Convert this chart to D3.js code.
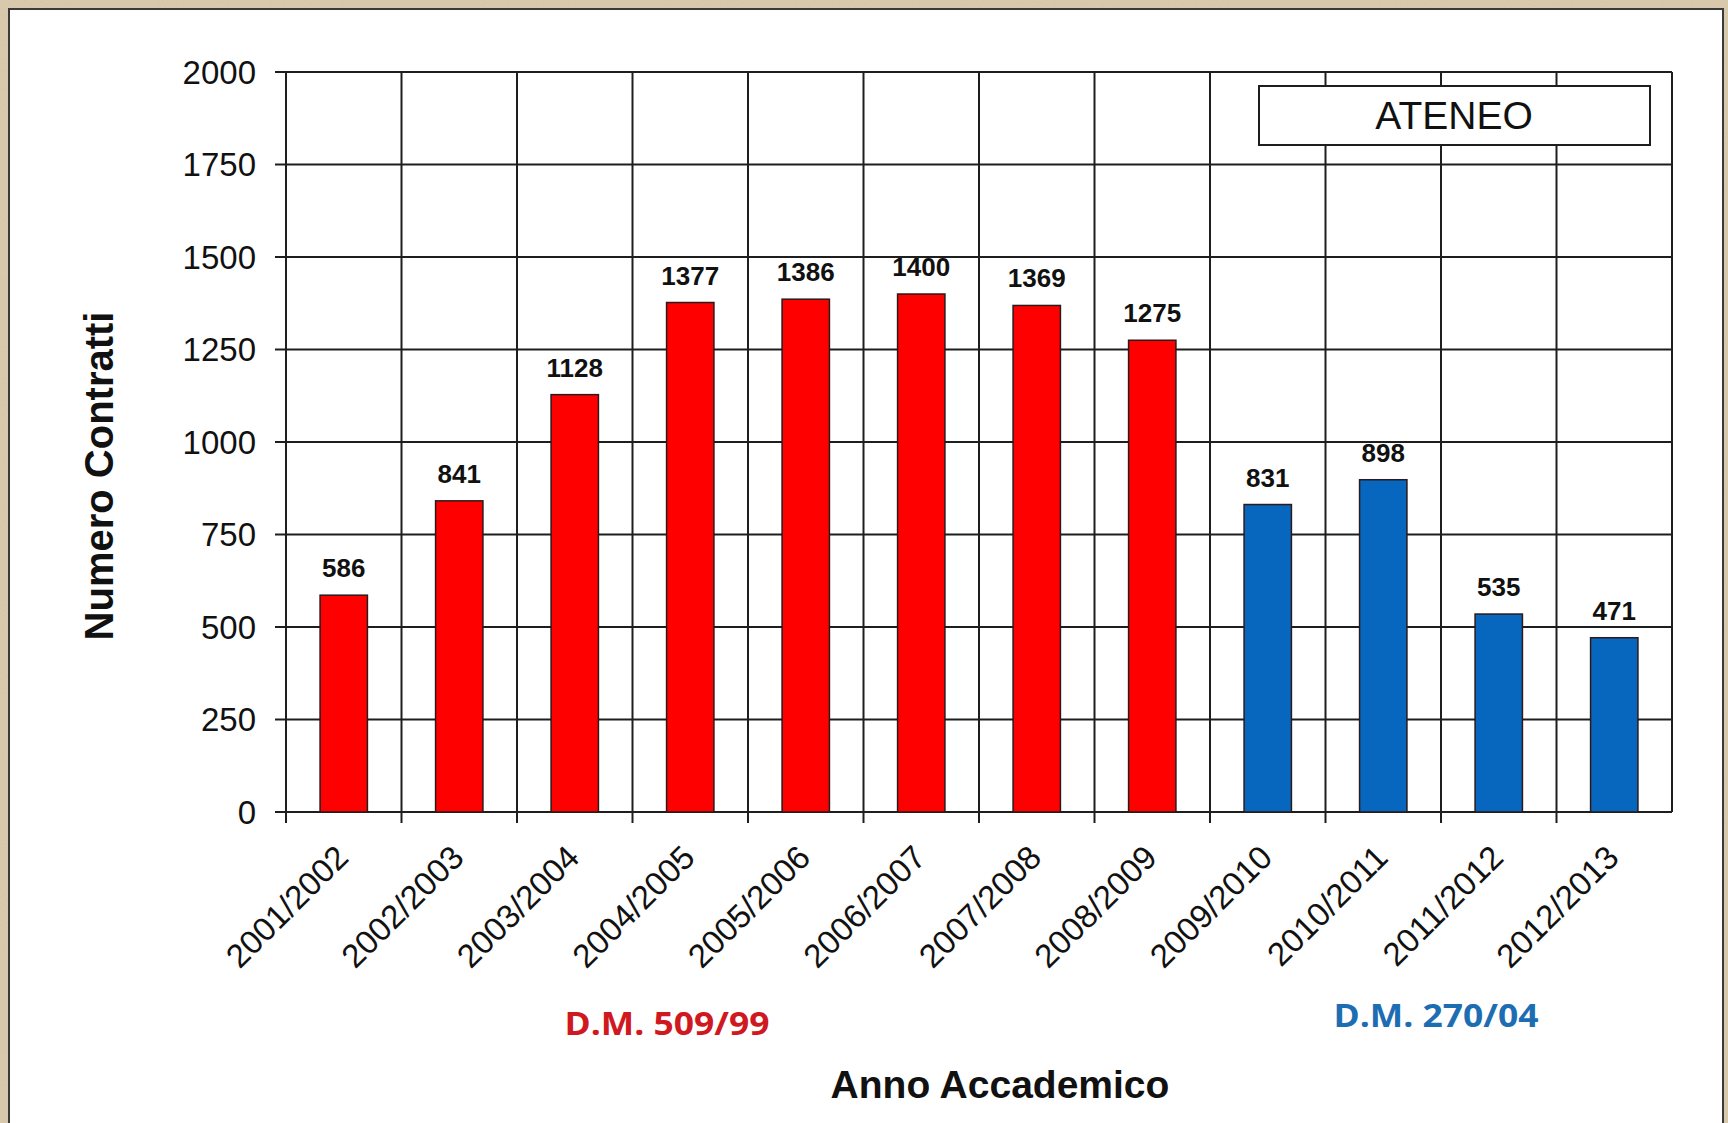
<!DOCTYPE html>
<html>
<head>
<meta charset="utf-8">
<script src="https://cdn.jsdelivr.net/npm/d3@7"></script>
<style>
  html, body { margin: 0; padding: 0; background: #d8c9ad; }
  svg { display: block; }
</style>
</head>
<body>
<svg id="chart" width="1728" height="1123"></svg>
<script>
// Academic years (x categories)
const anni = ["2001/2002","2002/2003","2003/2004","2004/2005","2005/2006","2006/2007",
              "2007/2008","2008/2009","2009/2010","2010/2011","2011/2012","2012/2013"];
// Number of contracts per academic year
const contratti = [586, 841, 1128, 1377, 1386, 1400, 1369, 1275, 831, 898, 535, 471];
// Regulation in force for each year
const ordinamento = ["509","509","509","509","509","509","509","509","270","270","270","270"];
// Y axis ticks
const yTicks = [0, 250, 500, 750, 1000, 1250, 1500, 1750, 2000];
// Regulation labels
const decreti = [
  { key: "509", label: "D.M. 509/99" },
  { key: "270", label: "D.M. 270/04" }
];

const colori = { "509": "#ff0000", "270": "#0766bd" };
const coloriTesto = { "509": "#d01820", "270": "#1d6db3" };

const svg = d3.select("#chart");
const W = 1728, H = 1123;
const plot = { left: 286, right: 1672, top: 72, bottom: 812 };

// textured-looking frame background
const defs = svg.append("defs");
const filt = defs.append("filter").attr("id", "grain").attr("x", 0).attr("y", 0).attr("width", "100%").attr("height", "100%");
filt.append("feTurbulence").attr("type", "fractalNoise").attr("baseFrequency", 0.9).attr("numOctaves", 2).attr("seed", 3).attr("result", "n");
filt.append("feColorMatrix").attr("in", "n").attr("type", "matrix")
  .attr("values", "0 0 0 0 0.55  0 0 0 0 0.45  0 0 0 0 0.3  0 0 0 0.35 0").attr("result", "c");
filt.append("feComposite").attr("in", "c").attr("in2", "SourceGraphic").attr("operator", "in");

svg.append("rect").attr("width", W).attr("height", H).attr("fill", "#dccdb1");
svg.append("rect").attr("width", W).attr("height", H).attr("fill", "#dccdb1").attr("filter", "url(#grain)");

// white panel
svg.append("rect")
  .attr("x", 9).attr("y", 9).attr("width", 1714).attr("height", H + 20)
  .attr("fill", "#ffffff").attr("stroke", "#3a3a3a").attr("stroke-width", 2);

const x = d3.scaleBand()
  .domain(anni)
  .range([plot.left, plot.right])
  .paddingInner(0.59)
  .paddingOuter(0.295);

const y = d3.scaleLinear()
  .domain([0, 2000])
  .range([plot.bottom, plot.top]);

const step = x.step();
const confini = d3.range(anni.length + 1).map(i => plot.left + i * step);

const grid = svg.append("g");
// horizontal gridlines
grid.selectAll("line.h").data(yTicks).join("line")
  .attr("class", "h")
  .attr("x1", plot.left - 11).attr("x2", plot.right)
  .attr("y1", d => y(d)).attr("y2", d => y(d))
  .attr("stroke", "#1e1e1e").attr("stroke-width", 2);
// vertical gridlines at category boundaries
grid.selectAll("line.v").data(confini).join("line")
  .attr("class", "v")
  .attr("x1", d => d).attr("x2", d => d)
  .attr("y1", plot.top).attr("y2", (d, i) => i === anni.length ? plot.bottom : plot.bottom + 11)
  .attr("stroke", "#1e1e1e").attr("stroke-width", 2);

// y tick labels
svg.append("g").selectAll("text").data(yTicks).join("text")
  .attr("x", 256).attr("y", d => y(d)).attr("dy", "0.36em")
  .attr("text-anchor", "end")
  .attr("font-family", "'Liberation Sans', Arial, sans-serif")
  .attr("font-size", 33).attr("fill", "#111")
  .text(d => d);

// bars
svg.append("g").selectAll("rect").data(contratti).join("rect")
  .attr("x", (d, i) => x(anni[i]))
  .attr("y", d => y(d))
  .attr("width", x.bandwidth())
  .attr("height", d => y(0) - y(d))
  .attr("fill", (d, i) => colori[ordinamento[i]])
  .attr("stroke", "#2a1a1a").attr("stroke-width", 1.5);

// value labels
svg.append("g").selectAll("text").data(contratti).join("text")
  .attr("x", (d, i) => x(anni[i]) + x.bandwidth() / 2)
  .attr("y", d => y(d) - 18)
  .attr("text-anchor", "middle")
  .attr("font-family", "'Liberation Sans', Arial, sans-serif")
  .attr("font-weight", "bold")
  .attr("font-size", 26).attr("fill", "#111")
  .text(d => d);

// x tick labels, rotated
svg.append("g").selectAll("text").data(anni).join("text")
  .attr("transform", d => `translate(${x(d) + x.bandwidth() / 2 - 2},${plot.bottom + 39}) rotate(-45)`)
  .attr("text-anchor", "end")
  .attr("dy", "0.36em")
  .attr("font-family", "'Liberation Sans', Arial, sans-serif")
  .attr("font-size", 33).attr("fill", "#111")
  .text(d => d);

// ATENEO box
svg.append("rect")
  .attr("x", 1259).attr("y", 86).attr("width", 391).attr("height", 59)
  .attr("fill", "#fff").attr("stroke", "#1e1e1e").attr("stroke-width", 2);
svg.append("text")
  .attr("x", 1454).attr("y", 129).attr("text-anchor", "middle")
  .attr("font-family", "'Liberation Sans', Arial, sans-serif")
  .attr("font-size", 39).attr("fill", "#111")
  .text("ATENEO");

// regulation labels
const posDecreti = { "509": { x: 667, y: 1035 }, "270": { x: 1436, y: 1027 } };
svg.append("g").selectAll("text").data(decreti).join("text")
  .attr("x", d => posDecreti[d.key].x).attr("y", d => posDecreti[d.key].y)
  .attr("text-anchor", "middle")
  .attr("font-family", "'Open Sans', sans-serif")
  .attr("font-weight", "bold")
  .attr("font-size", 32)
  .attr("textLength", 205).attr("lengthAdjust", "spacingAndGlyphs")
  .attr("fill", d => coloriTesto[d.key])
  .text(d => d.label);

// axis titles
svg.append("text")
  .attr("x", 1000).attr("y", 1098).attr("text-anchor", "middle")
  .attr("font-family", "'Liberation Sans', Arial, sans-serif")
  .attr("font-weight", "bold").attr("font-size", 39).attr("fill", "#111")
  .text("Anno Accademico");

svg.append("text")
  .attr("transform", "translate(113,476) rotate(-90)")
  .attr("text-anchor", "middle")
  .attr("font-family", "'Liberation Sans', Arial, sans-serif")
  .attr("font-weight", "bold").attr("font-size", 40).attr("fill", "#111")
  .text("Numero Contratti");
</script>
</body>
</html>
